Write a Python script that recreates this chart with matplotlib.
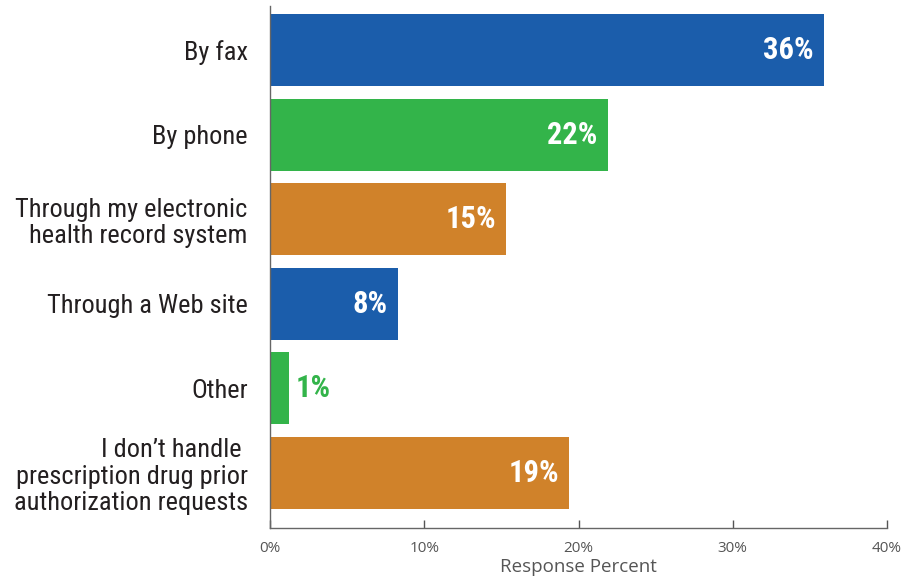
import matplotlib
matplotlib.use("Agg")
import matplotlib.pyplot as plt
from matplotlib import font_manager
from matplotlib.font_manager import FontProperties
import numpy as np

categories = [
    "By fax",
    "By phone",
    "Through my electronic\nhealth record system",
    "Through a Web site",
    "Other",
    "I don\u2019t handle \nprescription drug prior\nauthorization requests",
]
values = [35.9, 21.9, 15.3, 8.3, 1.2, 19.4]
colors = ["#1B5DAB", "#33B44A", "#D0822A", "#1B5DAB", "#33B44A", "#D0822A"]
xticks = [0, 10, 20, 30, 40]


def is_bold(f):
    w = f.weight
    return (w >= 600) if isinstance(w, int) else w in ("bold", "heavy", "black", "semibold", "demibold")


def narrow_font(bold):
    # look for a condensed sans among the installed fonts
    fonts = font_manager.fontManager.ttflist
    for key in ["Roboto Condensed", "Liberation Sans Narrow", "DejaVu Sans", "Noto Sans"]:
        for f in fonts:
            cond = "condensed" in str(f.stretch) or "Condensed" in f.fname or "Narrow" in f.fname
            if f.name.startswith(key) and cond and is_bold(f) == bold and f.style == "normal":
                return FontProperties(fname=f.fname)
    return None


reg = narrow_font(False)
bld = narrow_font(True)
condensed = reg is not None
if not condensed:
    reg = FontProperties(family="Roboto")
    bld = FontProperties(family="Roboto", weight="bold")

label_size = 19 if condensed else 16
value_size = 22 if condensed else 18
plain = "Open Sans"

fig = plt.figure(figsize=(9.02, 5.79), dpi=100)
ax = fig.add_axes([270 / 902, 1 - 528 / 579, (887 - 270) / 902, (528 - 6) / 579])

y = np.arange(len(categories))
bars = ax.barh(y, values, height=0.85, color=colors)

for bar, v, c in zip(bars, values, colors):
    cy = bar.get_y() + bar.get_height() / 2
    label = f"{v:.0f}%"
    if v < 3:
        ax.text(v + 0.45, cy, label, ha="left", va="center", color=c,
                fontproperties=bld, fontsize=value_size)
    else:
        ax.text(v - 0.65, cy, label, ha="right", va="center", color="white",
                fontproperties=bld, fontsize=value_size)

ax.set_xlim(0, 40)
ax.set_ylim(5.65, -0.52)
ax.set_yticks(y)
ax.set_yticklabels(categories, fontproperties=reg, fontsize=label_size,
                   color="#231F20", linespacing=1.12)
ax.tick_params(axis="y", length=0, pad=16)

ax.set_xticks(xticks)
ax.set_xticklabels([f"{t}%" for t in xticks], family=plain, fontsize=11, color="#555555")
ax.tick_params(axis="x", direction="in", length=6, width=1, color="#555555", pad=9)

for side in ["top", "right"]:
    ax.spines[side].set_visible(False)
for side in ["left", "bottom"]:
    ax.spines[side].set_color("#666666")
    ax.spines[side].set_linewidth(1)

ax.set_xlabel("Response Percent", family=plain, fontsize=13.5, color="#555555", labelpad=2)

fig.savefig("out.png", dpi=100)
